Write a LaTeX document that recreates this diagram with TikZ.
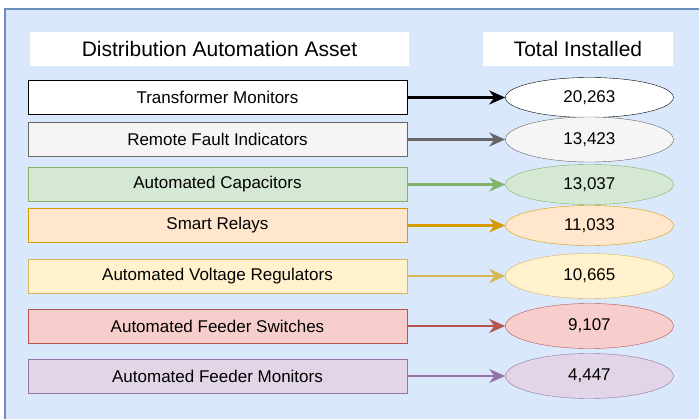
\documentclass[tikz,border=0pt]{standalone}
\usepackage{fontspec}
\setmainfont{Liberation Sans}
\usetikzlibrary{arrows.meta,positioning,shapes.geometric}
\definecolor{DAbg}{HTML}{DAE8FC}
\definecolor{DAbgline}{HTML}{6C8EBF}
\definecolor{DAgreyF}{HTML}{F5F5F5}
\definecolor{DAgreyL}{HTML}{666666}
\definecolor{DAgreenF}{HTML}{D5E8D4}
\definecolor{DAgreenL}{HTML}{82B366}
\definecolor{DAorangeF}{HTML}{FFE6CC}
\definecolor{DAorangeL}{HTML}{D79B00}
\definecolor{DAyellowF}{HTML}{FFF2CC}
\definecolor{DAyellowL}{HTML}{D6B656}
\definecolor{DAredF}{HTML}{F8CECC}
\definecolor{DAredL}{HTML}{B85450}
\definecolor{DApurpleF}{HTML}{E1D5E7}
\definecolor{DApurpleL}{HTML}{9673A6}

\begin{document}
\begin{tikzpicture}[
      x=1pt,y=-1pt,
      node distance=98pt,
      head/.style={fill=white,minimum height=34pt,inner sep=0pt,font=\fontsize{21}{24}\selectfont},
      asset/.style={draw,minimum width=379pt,minimum height=34pt,inner sep=0pt,font=\fontsize{17}{20}\selectfont},
      total/.style={draw,ellipse,minimum width=168pt,minimum height=40pt,inner sep=0pt,font=\fontsize{17}{20}\selectfont},
      arr/.style={-{Stealth[length=16pt,width=14pt]},line width=2.6pt}
    ]
    \clip (0,0) rectangle (699,419);
    \fill[DAbg] (5,9) rectangle (720,440);
    \draw[DAbgline,line width=2pt] (5,440) -- (5,9) -- (720,9);
    % headers
    \node[head,minimum width=379pt] (hasset) at (219.5,49) {Distribution Automation Asset};
    \node[head,minimum width=190pt] (htotal) at (578,49) {Total Installed};
    % assets and totals
    \node[asset,fill=white] (trans) at (217.5,97.5) {Transformer Monitors};
    \node[total,fill=white,right=of trans] (ntrans) {20,263};
    \node[asset,draw=DAgreyL,fill=DAgreyF] (fault) at (217.5,139.5) {Remote Fault Indicators};
    \node[total,draw=DAgreyL,fill=DAgreyF,minimum height=45pt,right=of fault] (nfault) {13,423};
    \node[asset,draw=DAgreenL,fill=DAgreenF] (cap) at (217.5,184.5) {Automated Capacitors};
    \node[total,draw=DAgreenL,fill=DAgreenF,right=of cap] (ncap) {13,037};
    \node[asset,draw=DAorangeL,fill=DAorangeF] (relay) at (217.5,225.5) {Smart Relays};
    \node[total,draw=DAorangeL,fill=DAorangeF,right=of relay] (nrelay) {11,033};
    \node[asset,draw=DAyellowL,fill=DAyellowF] (volt) at (217.5,276) {Automated Voltage Regulators};
    \node[total,draw=DAyellowL,fill=DAyellowF,minimum height=45pt,right=of volt] (nvolt) {10,665};
    \node[asset,draw=DAredL,fill=DAredF] (switch) at (217.5,326) {Automated Feeder Switches};
    \node[total,draw=DAredL,fill=DAredF,minimum height=45pt,right=of switch] (nswitch) {9,107};
    \node[asset,draw=DApurpleL,fill=DApurpleF] (feed) at (217.5,376) {Automated Feeder Monitors};
    \node[total,draw=DApurpleL,fill=DApurpleF,minimum height=45pt,right=of feed] (nfeed) {4,447};
    \draw[arr] (trans) -- (ntrans);
    \draw[arr,DAgreyL] (fault) -- (nfault);
    \draw[arr,DAgreenL] (cap) -- (ncap);
    \draw[arr,DAorangeL] (relay) -- (nrelay);
    \draw[arr,DAyellowL] (volt) -- (nvolt);
    \draw[arr,DAredL] (switch) -- (nswitch);
    \draw[arr,DApurpleL] (feed) -- (nfeed);
\end{tikzpicture}
\end{document}
